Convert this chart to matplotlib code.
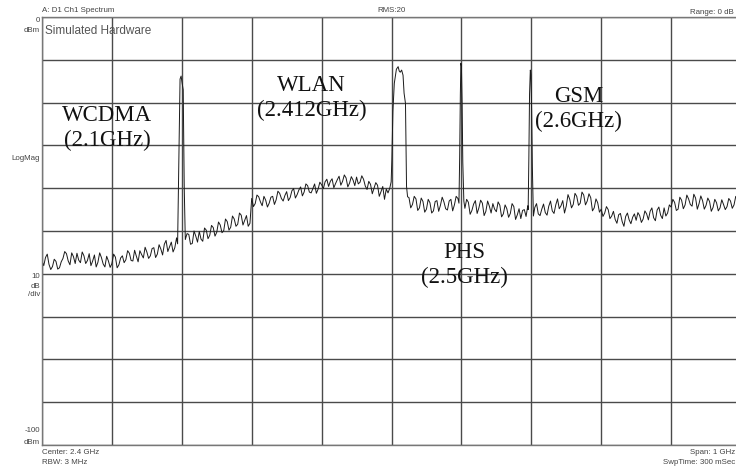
import numpy as np
import matplotlib
matplotlib.use("Agg")
import matplotlib.pyplot as plt

nan = np.nan

# noise floor, 5 MHz steps from 1900 MHz
# (nan where the WLAN carrier covers it)
noise_start = 1900
noise_step = 5
noise_dbm = [
    -57.0, -56.2, -57.8, -58.3, -57.1, -58.6, -56.4, -55.3, -57.9, -56.0,
    -55.2, -57.4, -55.8, -56.9, -58.1, -55.6, -57.3, -56.2, -58.4, -57.0,
    -57.6, -56.1, -57.9, -55.8, -56.7, -55.2, -57.0, -55.9, -54.6, -56.3,
    -54.9, -55.8, -53.9, -55.4, -54.2, -53.1, -54.8, -52.6, -53.9, -52.8,
    -51.5, -53.6, -50.8, -52.9, -51.2, -50.1, -52.4, -49.8, -51.0, -49.2,
    -50.3, -48.6, -49.9, -47.8, -49.1, -47.2, -48.4, -46.3, -47.5, -48.9,
    -42.4, -43.6, -42.0, -44.1, -42.8, -43.5, -41.9, -42.7, -41.2, -43.0,
    -40.8, -42.2, -40.1, -41.5, -39.7, -40.9, -39.4, -41.1, -39.0, -40.2,
    -39.2, -38.5, -39.6, -37.8, -38.9, -37.2, -38.4, -37.6, -38.8, -38.1,
    -37.4, -38.6, -37.9, -40.3, -39.1, -40.0, -39.3, -40.8, -42.6, -41.1,
    nan, nan, nan, nan, nan,
    -42.2, -43.8, -42.5, -44.6, -43.1,
    -44.9, -43.4, -45.3, -42.9, -44.0, -43.2, -45.1, -42.6, -43.9, -42.4,
    -43.0, -44.7, -43.3, -45.2, -42.9, -44.6, -43.5, -45.4, -44.2, -43.6,
    -45.5, -44.0, -46.0, -44.8, -45.9, -44.3, -46.2, -47.1, -45.0, -44.1,
    -45.6, -44.5, -46.0, -44.9, -45.7, -44.2, -45.3, -43.9, -44.8, -42.9,
    -44.2, -42.6, -43.8, -41.9, -43.5, -41.6, -43.0, -42.2, -44.6, -43.4,
    -44.9, -45.8, -45.0, -46.5, -47.3, -46.2, -47.8, -46.6, -47.4, -46.8,
    -47.5, -46.4, -47.2, -46.0, -45.4, -46.9, -45.1, -46.3, -44.6, -45.8,
    -44.4, -43.3, -44.9, -42.8, -43.9, -42.5, -44.2, -42.3, -43.6, -42.9,
    -44.0, -43.1, -44.5, -43.4, -44.6, -43.8, -44.3, -43.0, -43.9, -42.8,
]
# in-between samples, at 1902.5, 1907.5, ... MHz
noise_mid_dbm = [
    -58.1, -55.4, -59.0, -56.6, -58.9, -57.2, -54.8, -57.0, -55.1, -57.6,
    -56.8, -54.9, -57.6, -55.3, -57.0, -58.4, -55.1, -57.7, -55.9, -58.5,
    -55.4, -58.6, -56.3, -57.4, -54.6, -56.9, -54.5, -57.2, -55.5, -53.8,
    -56.4, -54.1, -56.2, -53.2, -55.6, -52.2, -53.7, -54.9, -51.6, -53.9,
    nan, -50.6, -53.1, -50.0, -52.6, -51.9, -49.3, -51.8, -48.7, -51.2,
    -47.9, -50.4, -47.2, -49.8, -46.5, -48.9, -45.8, -48.6, -46.4, -48.2,
    -44.3, -41.6, -43.2, -41.9, -44.4, -42.1, -43.8, -40.7, -42.4, -41.7,
    -42.9, -40.6, -42.3, -40.4, -41.8, -39.0, -40.9, -40.1, -41.2, -38.6,
    -40.1, -37.9, -38.4, -39.9, -38.0, -39.3, -36.9, -39.7, -37.3, -39.4,
    -39.0, -37.1, -39.5, -38.4, -41.3, -38.7, -41.9, -39.6, -40.2, -40.0,
    nan, nan, nan, nan, nan,
    -44.6, -41.9, -45.2, -42.3, -45.6,
    -42.6, -45.8, -43.1, -45.4, -42.1, -44.8, -43.0, -45.3, -41.9, nan,
    nan, -42.6, -46.1, -43.7, -45.9, -42.8, -46.4, -43.0, -45.8, -44.9,
    -43.2, -46.7, -43.9, -46.8, -43.6, -47.3, -44.8, -45.2, -46.6, nan,
    nan, -43.6, -46.4, -43.7, -46.3, -43.0, -45.9, -42.5, -44.1, -45.8,
    -41.5, -44.6, -41.2, -44.0, -40.9, -43.9, -41.3, -45.3, -42.5, -45.6,
    -46.6, -44.3, -47.1, -45.4, -48.2, -45.9, -48.9, -45.8, -48.3, -46.0,
    -45.7, -48.0, -45.3, -47.4, -44.6, -47.6, -44.4, -47.1, -46.5, -43.9,
    -42.6, -45.2, -42.1, -44.8, -41.6, -43.8, -41.4, -44.9, -41.8, -44.9,
    -42.3, -45.4, -42.6, -45.3, -42.7, -45.0, -42.4, -44.7, -41.9, -44.0,
]

# carriers (MHz, dBm)
wcdma_f = [2094, 2096, 2097.5, 2099, 2100.5, 2102, 2103.5, 2105]
wcdma_db = [-53.0, -30.0, -14.5, -13.8, -15.5, -17.0, -40.0, -52.0]
wlan_f = [2399.5, 2400.5, 2402, 2404, 2407, 2409.5, 2411, 2412.5, 2414.5,
          2416.5, 2418, 2420, 2421.5, 2423]
wlan_db = [-38.5, -33.5, -22.0, -15.5, -12.2, -11.6, -12.6, -12.9, -12.4,
           -13.6, -17.8, -20.2, -39.6, -42.0]
phs_f = [2496.5, 2497.5, 2498.5, 2499.3, 2500, 2501, 2502, 2503.5]
phs_db = [-43.5, -33.0, -18.0, -10.8, -11.5, -20.0, -34.0, -43.0]
gsm_f = [2595.5, 2596.5, 2597.5, 2598.6, 2599.5, 2600.5, 2601.5, 2603]
gsm_db = [-45.0, -33.0, -18.0, -12.4, -13.5, -22.0, -35.0, -46.5]

labels = ["WCDMA\n(2.1GHz)", "WLAN\n(2.412GHz)", "PHS\n(2.5GHz)", "GSM\n(2.6GHz)"]
label_f = [1993, 2286, 2504, 2668]
label_db = [-25.9, -19.0, -58.0, -21.5]

# one trace: noise samples outside the carriers + carrier samples
n = len(noise_dbm)
nf = np.concatenate([noise_start + noise_step * np.arange(n),
                     noise_start + noise_step * (np.arange(n) + 0.5)])
nd = np.array(noise_dbm + noise_mid_dbm)
keep = ~np.isnan(nd)
for cf in (wcdma_f, wlan_f, phs_f, gsm_f):
    keep &= ~((nf >= cf[0]) & (nf <= cf[-1]))
freq = np.concatenate([nf[keep], wcdma_f, wlan_f, phs_f, gsm_f])
level = np.concatenate([nd[keep], wcdma_db, wlan_db, phs_db, gsm_db])
order = np.argsort(freq)
freq, level = freq[order], level[order]

W, H = 736, 468
fig = plt.figure(figsize=(W / 100, H / 100), dpi=100)
ax = fig.add_axes([42 / W, 23 / H, 699 / W, 428 / H])

ax.plot(freq, level, color="#1a1a1a", lw=0.7)
ax.set_xlim(1900, 2900)
ax.set_ylim(-100, 0)
ax.set_xticks(np.arange(1900, 2901, 100))
ax.set_yticks(np.arange(-100, 1, 10))
ax.grid(True, color="#4a4a4a", lw=1.0)
ax.tick_params(length=0, labelbottom=False, labelleft=False)
for s in ax.spines.values():
    s.set_color("#777777")
    s.set_linewidth(1.0)

for txt, f, d in zip(labels, label_f, label_db):
    ax.text(f, d, txt, family="Liberation Serif", fontsize=16.5,
            ha="center", va="center", multialignment="center",
            linespacing=1.25, color="#111111")

# screen annotations
def ftext(x, y, s, **kw):
    fig.text(x / W, 1 - y / H, s, family="Liberation Sans",
             color=kw.pop("color", "#444444"), fontsize=kw.pop("fontsize", 5.7), **kw)

ftext(42, 11, "A: D1 Ch1 Spectrum", va="center")
ftext(392, 11, "RMS:20", ha="center", va="center")
ftext(734, 13, "Range: 0 dB", ha="right", va="center")
ftext(40, 20, "0", ha="right", va="center")
ftext(40, 30, "dBm", ha="right", va="center")
ftext(45, 31, "Simulated Hardware", va="center", fontsize=8.5, color="#555555")
ftext(40, 158, "LogMag", ha="right", va="center")
ftext(40, 286, "10\ndB\n/div", ha="right", va="center", multialignment="right",
      linespacing=1.4)
ftext(40, 431, "-100", ha="right", va="center")
ftext(40, 442, "dBm", ha="right", va="center")
ftext(42, 452, "Center: 2.4 GHz", va="center")
ftext(42, 462, "RBW: 3 MHz", va="center")
ftext(735, 452, "Span: 1 GHz", ha="right", va="center")
ftext(735, 462, "SwpTime: 300 mSec", ha="right", va="center")

fig.savefig("out.png", dpi=100, facecolor="white")
